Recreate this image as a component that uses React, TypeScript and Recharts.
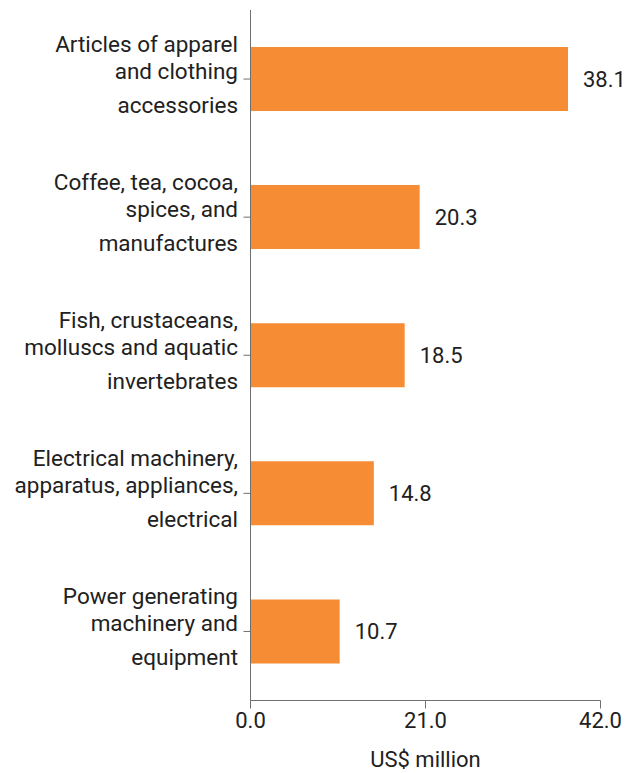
import React from "react";
import { BarChart, Bar, XAxis, YAxis, LabelList } from "recharts";

// Product groups, each label pre-split into its display lines
const categories = [
  "Articles of apparel and clothing accessories",
  "Coffee, tea, cocoa, spices, and manufactures",
  "Fish, crustaceans, molluscs and aquatic invertebrates",
  "Electrical machinery, apparatus, appliances, electrical",
  "Power generating machinery and equipment",
];
const categoryLines = [
  ["Articles of apparel", "and clothing", "accessories"],
  ["Coffee, tea, cocoa,", "spices, and", "manufactures"],
  ["Fish, crustaceans,", "molluscs and aquatic", "invertebrates"],
  ["Electrical machinery,", "apparatus, appliances,", "electrical"],
  ["Power generating", "machinery and", "equipment"],
];
const values = [38.1, 20.3, 18.5, 14.8, 10.7];
const xTicks = [0, 21, 42];
const axisTitle = "US$ million";

const data = categories.map((name, i) => ({ name, value: values[i] }));

const FONT = "Roboto, 'Noto Sans', sans-serif";
const TEXT = "#212121";
const AXIS = "#6f6f6f";
const BAR = "#F68D34";

// baseline offsets of the three label lines relative to the tick
const lineOffsets = [-27, 0, 34];

const CategoryTick = (props: any) => {
  const { x, y, payload } = props;
  const idx = categories.indexOf(payload.value);
  const lines = idx >= 0 ? categoryLines[idx] : [payload.value];
  return (
    <g>
      {lines.map((ln: string, i: number) => (
        <text
          key={i}
          x={x}
          y={y + lineOffsets[i]}
          textAnchor="end"
          fontSize={22.5}
          fontFamily={FONT}
          fill={TEXT}
        >
          {ln}
        </text>
      ))}
    </g>
  );
};

const AxisTitle = (props: any) => {
  const vb = props.viewBox || {};
  return (
    <text
      x={vb.x + vb.width / 2}
      y={vb.y + 66.5}
      textAnchor="middle"
      fontSize={22}
      fontFamily={FONT}
      fill={TEXT}
    >
      {axisTitle}
    </text>
  );
};

export default function App() {
  return (
    <div style={{ position: "absolute", left: 0, top: 0, width: 640, height: 773, background: "#fff" }}>
      <BarChart
        width={640}
        height={773}
        data={data}
        layout="vertical"
        margin={{ top: 10, right: 39.5, bottom: 0, left: 0 }}
      >
        <XAxis
          type="number"
          dataKey="value"
          domain={[0, 42]}
          ticks={xTicks}
          interval={0}
          tickFormatter={(v: number) => v.toFixed(1)}
          height={72.5}
          tickSize={8}
          tickMargin={4}
          stroke={AXIS}
          tick={{ fill: TEXT, fontSize: 22, fontFamily: FONT }}
          label={<AxisTitle />}
        />
        <YAxis
          type="category"
          dataKey="name"
          width={250.5}
          tickSize={7}
          tickMargin={5.5}
          stroke={AXIS}
          interval={0}
          tick={<CategoryTick />}
        />
        <Bar dataKey="value" fill={BAR} barSize={64} isAnimationActive={false}>
          <LabelList
            dataKey="value"
            position="right"
            offset={15}
            formatter={(v: number) => v.toFixed(1)}
            style={{ fill: TEXT, fontSize: 22, fontFamily: FONT }}
          />
        </Bar>
      </BarChart>
    </div>
  );
}
